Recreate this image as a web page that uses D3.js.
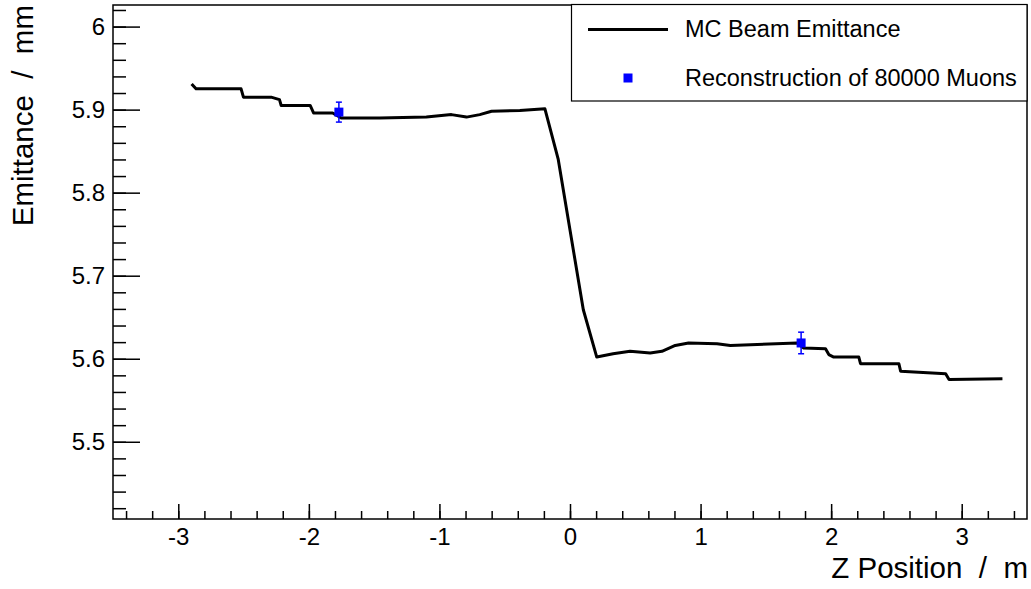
<!DOCTYPE html>
<html>
<head>
<meta charset="utf-8">
<script src="https://cdn.jsdelivr.net/npm/d3@7"></script>
<style>
  body { margin: 0; background: #fff; }
  text { font-family: "Liberation Sans", Arial, sans-serif; white-space: pre; }
</style>
</head>
<body>
<div id="chart-container"></div>
<script>
// Chart size and frame margins
const W = 1031, H = 589;
const margin = { top: 5, right: 4, bottom: 70, left: 113 };

// MC beam emittance curve (z in m, emittance in mm)
const mcZ = [-2.898, -2.864, -2.519, -2.501, -2.289, -2.225, -2.212, -1.990, -1.964, -1.818,
  -1.752, -1.458, -1.100, -0.908, -0.793, -0.691, -0.601, -0.384, -0.192, -0.090,
  0.000, 0.102, 0.205, 0.330, 0.460, 0.614, 0.704, 0.806, 0.908, 1.126,
  1.228, 1.739, 1.790, 1.957, 1.982, 2.020, 2.212, 2.225, 2.519, 2.532,
  2.877, 2.903, 3.312];
const mcEmit = [5.931, 5.925, 5.925, 5.915, 5.915, 5.912, 5.905, 5.905, 5.896, 5.896,
  5.890, 5.890, 5.891, 5.894, 5.891, 5.894, 5.898, 5.899, 5.901, 5.840,
  5.755, 5.659, 5.602, 5.606, 5.609, 5.607, 5.609, 5.616, 5.619, 5.618,
  5.616, 5.619, 5.613, 5.612, 5.605, 5.602, 5.602, 5.594, 5.594, 5.585,
  5.582, 5.575, 5.576];

// Reconstructed points with errors
const recoZ = [-1.77, 1.77];
const recoEmit = [5.897, 5.619];
const recoErr = [0.012, 0.013];

// Axis ticks
const xMajor = [-3, -2, -1, 0, 1, 2, 3];
const xMinor = d3.range(-34, 35, 2).map(d => d / 10);
const yMajor = [5.5, 5.6, 5.7, 5.8, 5.9, 6.0];
const yMinor = d3.range(271, 302).map(d => d / 50);

const legendLabels = ["MC Beam Emittance", "Reconstruction of 80000 Muons"];

const x = d3.scaleLinear()
    .domain([-3.5, 3.5])
    .range([margin.left, W - margin.right]);

const y = d3.scaleLinear()
    .domain([5.407, 6.026])
    .range([H - margin.bottom, margin.top]);

const svg = d3.select("#chart-container")
  .append("svg")
    .attr("width", W)
    .attr("height", H);

// y-axis (ticks drawn inside the frame, ROOT style)
svg.append("g")
    .attr("transform", `translate(${margin.left},0)`)
    .call(d3.axisLeft(y).tickValues(yMajor).tickSize(-27).tickPadding(8)
      .tickFormat(d => String(+d.toFixed(1))));
svg.append("g")
    .attr("transform", `translate(${margin.left},0)`)
    .call(d3.axisLeft(y).tickValues(yMinor).tickSize(-13).tickFormat(""));

// x-axis (plain hyphen for negatives)
svg.append("g")
    .attr("transform", `translate(0,${H - margin.bottom})`)
    .call(d3.axisBottom(x).tickValues(xMajor).tickSize(-15).tickPadding(9)
      .tickFormat(d => String(d)));
svg.append("g")
    .attr("transform", `translate(0,${H - margin.bottom})`)
    .call(d3.axisBottom(x).tickValues(xMinor).tickSize(-8).tickFormat(""));

svg.selectAll(".domain").remove();
svg.selectAll(".tick line").attr("stroke", "#000").attr("stroke-width", 1.5);
svg.selectAll(".tick text")
    .attr("fill", "#000")
    .style("font-size", "24px");

// frame
svg.append("rect")
    .attr("x", margin.left)
    .attr("y", margin.top)
    .attr("width", W - margin.left - margin.right)
    .attr("height", H - margin.top - margin.bottom)
    .attr("fill", "none")
    .attr("stroke", "#000")
    .attr("stroke-width", 1.5);

// axis titles
svg.append("text")
    .attr("x", W - margin.right + 1)
    .attr("y", 578)
    .attr("text-anchor", "end")
    .style("font-size", "29.5px")
    .text("Z Position  /  m");

svg.append("text")
    .attr("transform", `translate(33,${margin.top}) rotate(-90)`)
    .attr("text-anchor", "end")
    .style("font-size", "29.5px")
    .text("Emittance  /  mm");

// MC line
const line = d3.line()
    .x(i => x(mcZ[i]))
    .y(i => y(mcEmit[i]));

svg.append("path")
    .datum(d3.range(mcZ.length))
    .attr("fill", "none")
    .attr("stroke", "#000")
    .attr("stroke-width", 3)
    .attr("stroke-linejoin", "round")
    .attr("d", line);

// reconstruction points
const blue = "#0000ff";
const reco = svg.append("g");
recoZ.forEach((z, i) => {
  const cx = x(z);
  reco.append("line")
      .attr("x1", cx).attr("x2", cx)
      .attr("y1", y(recoEmit[i] - recoErr[i]))
      .attr("y2", y(recoEmit[i] + recoErr[i]))
      .attr("stroke", blue).attr("stroke-width", 1.5);
  [recoEmit[i] - recoErr[i], recoEmit[i] + recoErr[i]].forEach(v => {
    reco.append("line")
        .attr("x1", cx - 3).attr("x2", cx + 3)
        .attr("y1", y(v)).attr("y2", y(v))
        .attr("stroke", blue).attr("stroke-width", 1.5);
  });
  reco.append("rect")
      .attr("x", cx - 4.5).attr("y", y(recoEmit[i]) - 4.5)
      .attr("width", 9).attr("height", 9)
      .attr("fill", blue);
});

// legend
const lg = svg.append("g");
lg.append("rect")
    .attr("x", 571.5).attr("y", 4.5)
    .attr("width", 455.5).attr("height", 96.5)
    .attr("fill", "#fff")
    .attr("stroke", "#000")
    .attr("stroke-width", 1.2);
lg.append("line")
    .attr("x1", 588).attr("x2", 668)
    .attr("y1", 29.5).attr("y2", 29.5)
    .attr("stroke", "#000").attr("stroke-width", 3);
lg.append("rect")
    .attr("x", 623.5).attr("y", 73.5)
    .attr("width", 9).attr("height", 9)
    .attr("fill", blue);
lg.selectAll("text.lab")
  .data(legendLabels)
  .join("text")
    .attr("class", "lab")
    .attr("x", 685)
    .attr("y", (d, i) => i === 0 ? 37 : 85.5)
    .style("font-size", "23.5px")
    .text(d => d);
</script>
</body>
</html>
